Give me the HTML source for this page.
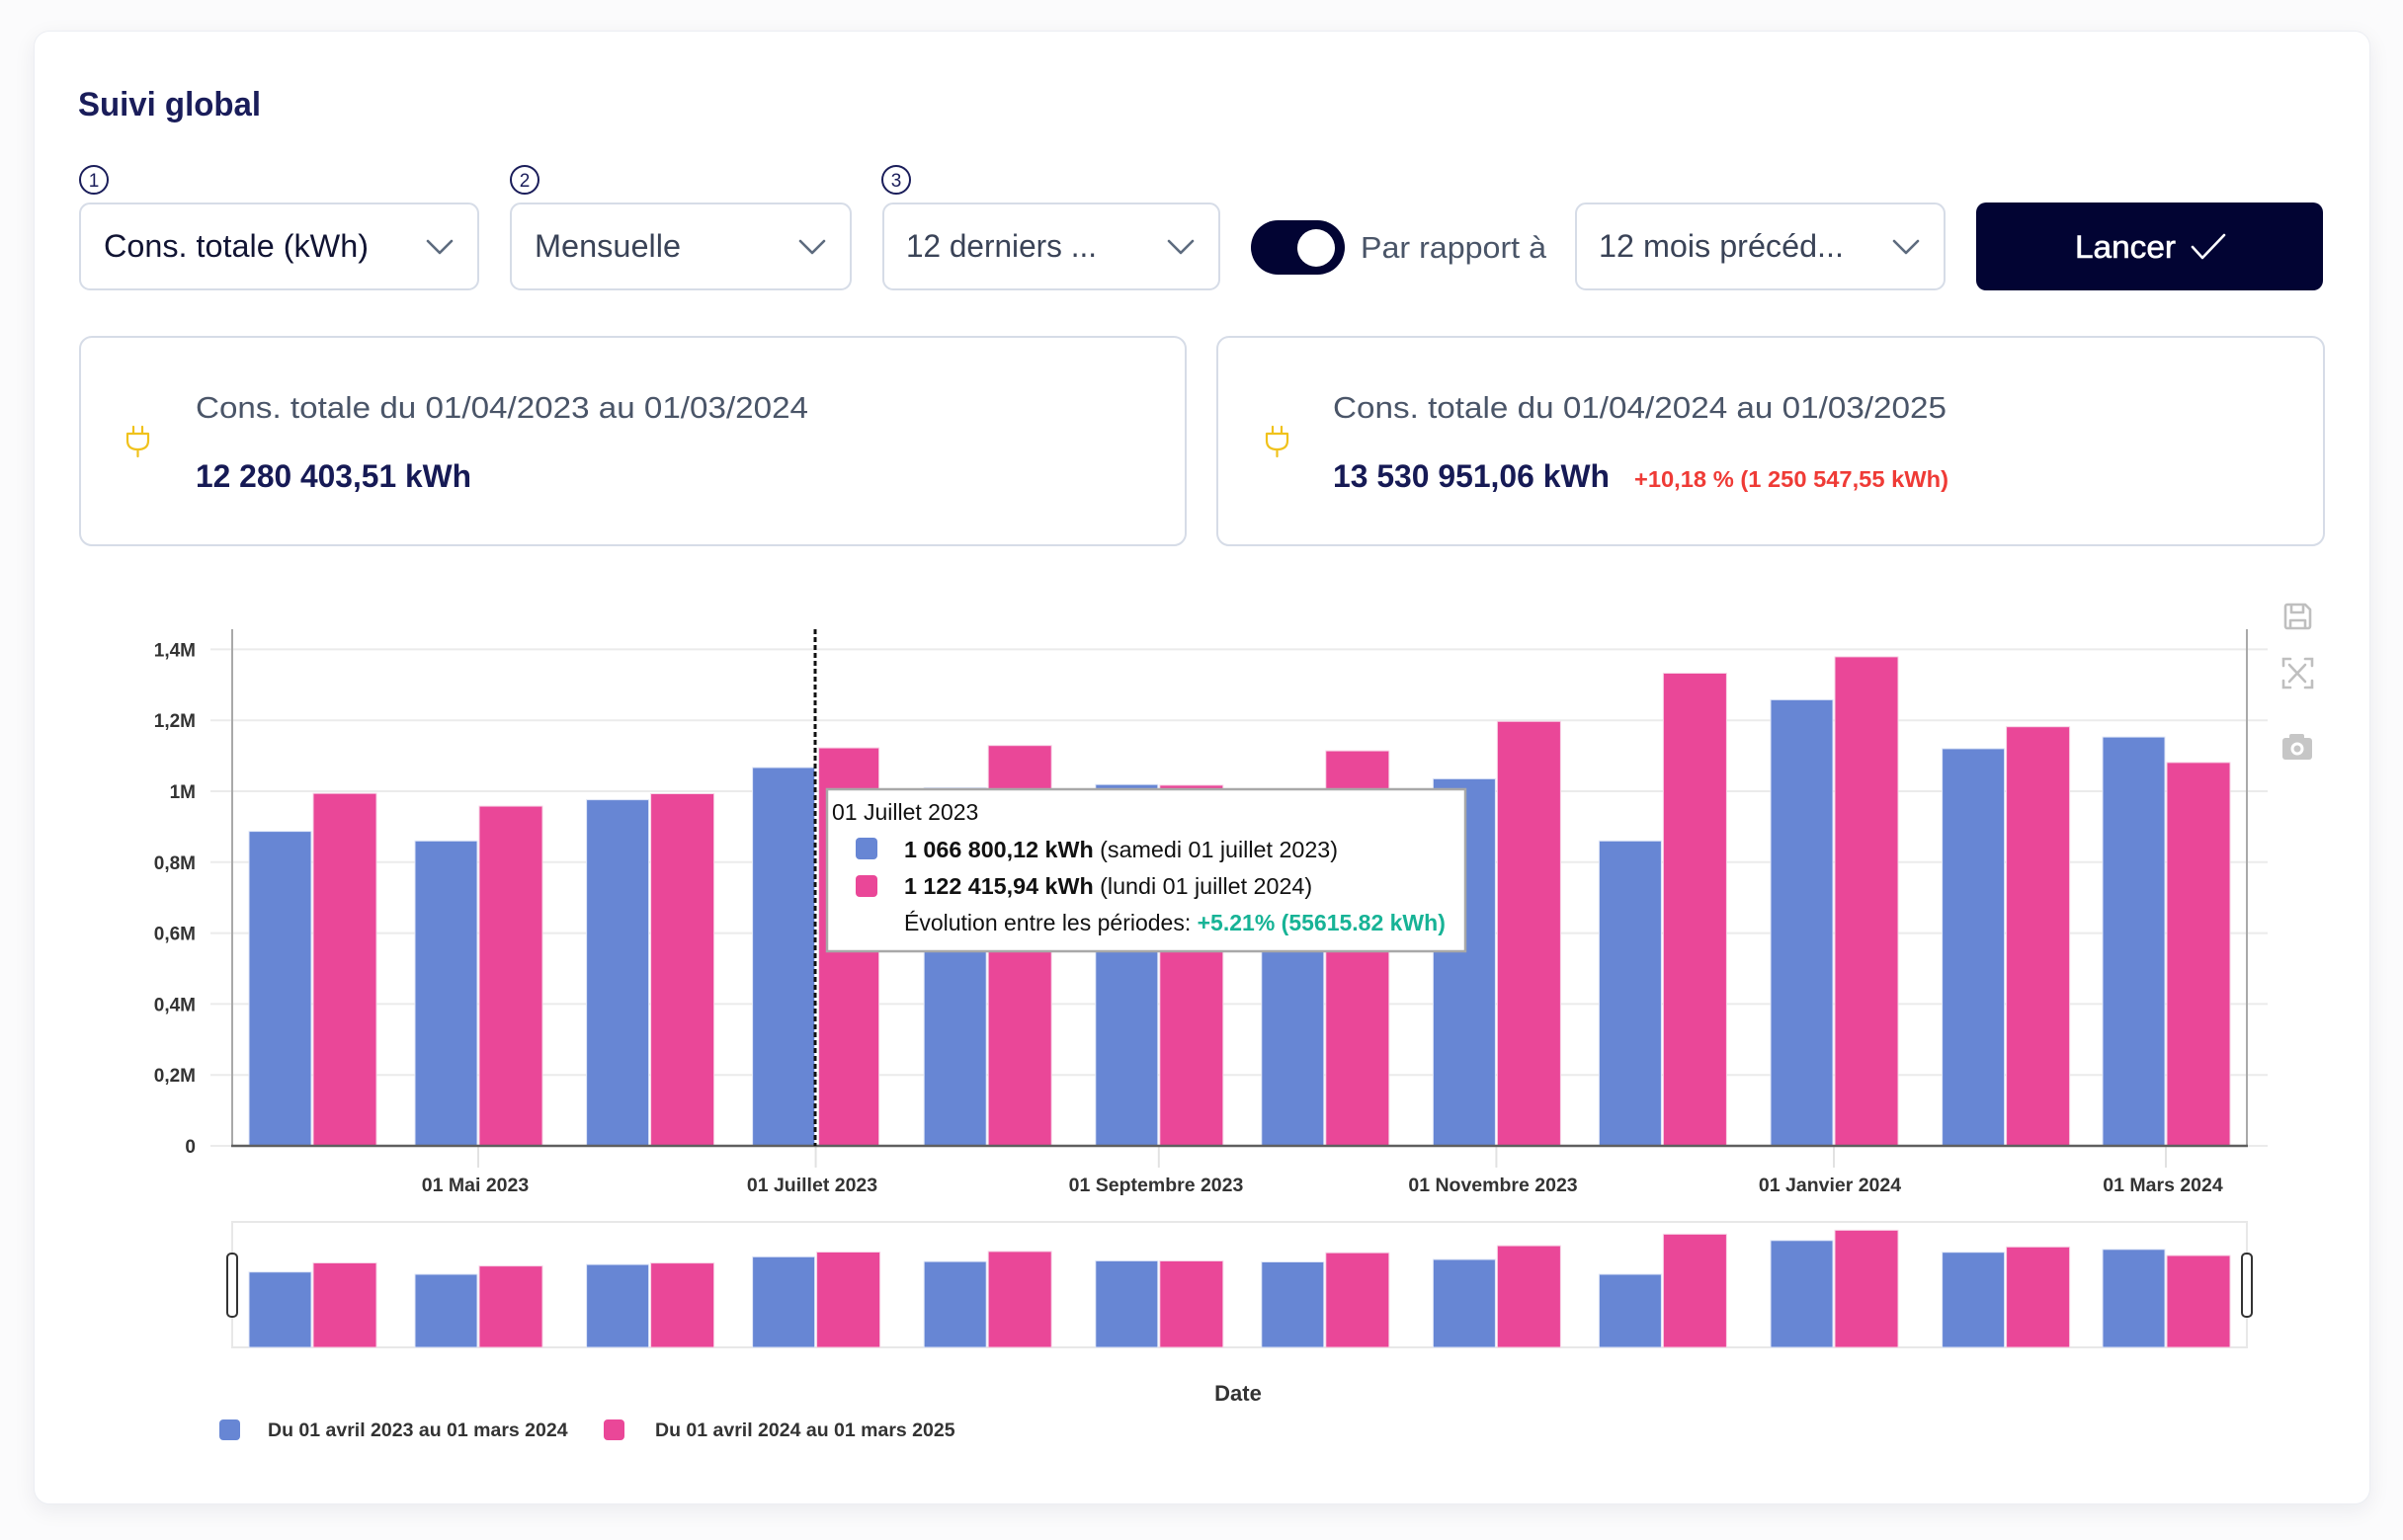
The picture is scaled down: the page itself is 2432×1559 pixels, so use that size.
<!DOCTYPE html>
<html>
<head>
<meta charset="utf-8">
<style>
  html,body{margin:0;padding:0;}
  body{width:2432px;height:1559px;background:#fbfbfc;position:relative;overflow:hidden;font-family:"Liberation Sans",Arial,sans-serif;}
  .card{position:absolute;left:34px;top:31px;width:2365px;height:1492px;background:#fff;border-radius:16px;border:1px solid #eceef3;box-shadow:0 6px 22px rgba(20,30,60,0.07);box-sizing:border-box;}
  svg{position:absolute;left:0;top:0;}
</style>
</head>
<body>
<div class="card"></div>
<svg width="2432" height="1559" viewBox="0 0 2432 1559" xmlns="http://www.w3.org/2000/svg" font-family="Liberation Sans, Arial, sans-serif">
  <!-- Title -->
  <text x="79" y="117" font-size="34" font-weight="bold" fill="#1a1d5a" textLength="185" lengthAdjust="spacingAndGlyphs">Suivi global</text>

  <!-- Step circles -->
  <g fill="none" stroke="#1a1d5a" stroke-width="2">
    <circle cx="95" cy="182" r="14"/>
    <circle cx="531" cy="182" r="14"/>
    <circle cx="907" cy="182" r="14"/>
  </g>
  <g font-size="19" fill="#1a1d5a" text-anchor="middle">
    <text x="95" y="189">1</text>
    <text x="531" y="189">2</text>
    <text x="907" y="189">3</text>
  </g>

  <!-- Dropdowns -->
  <g fill="#fff" stroke="#d6dce7" stroke-width="2">
    <rect x="81" y="206" width="403" height="87" rx="10"/>
    <rect x="517" y="206" width="344" height="87" rx="10"/>
    <rect x="894" y="206" width="340" height="87" rx="10"/>
    <rect x="1595" y="206" width="373" height="87" rx="10"/>
  </g>
  <text x="105" y="260" font-size="32" fill="#111433" textLength="268" lengthAdjust="spacingAndGlyphs">Cons. totale (kWh)</text>
  <text x="541" y="260" font-size="32" fill="#3a4357" textLength="148" lengthAdjust="spacingAndGlyphs">Mensuelle</text>
  <text x="917" y="260" font-size="32" fill="#3a4357" textLength="193" lengthAdjust="spacingAndGlyphs">12 derniers ...</text>
  <text x="1618" y="260" font-size="32" fill="#3a4357" textLength="248" lengthAdjust="spacingAndGlyphs">12 mois précéd...</text>
  <g fill="none" stroke="#5d6b7e" stroke-width="2.6" stroke-linecap="round" stroke-linejoin="round">
    <polyline points="433,244 445,256 457,244"/>
    <polyline points="810,244 822,256 834,244"/>
    <polyline points="1183,244 1195,256 1207,244"/>
    <polyline points="1917,244 1929,256 1941,244"/>
  </g>

  <!-- Toggle -->
  <rect x="1266" y="223" width="95" height="55" rx="27.5" fill="#020433"/>
  <circle cx="1332" cy="251" r="19" fill="#fff"/>
  <text x="1377" y="261" font-size="31" fill="#4a5568" textLength="188" lengthAdjust="spacingAndGlyphs">Par rapport à</text>

  <!-- Button -->
  <rect x="2000" y="205" width="351" height="89" rx="10" fill="#020433"/>
  <text x="2100" y="261" font-size="32" fill="#fff" textLength="102" lengthAdjust="spacingAndGlyphs" stroke="#fff" stroke-width="0.6">Lancer</text>
  <polyline points="2219,250 2229,261 2251,238" fill="none" stroke="#fff" stroke-width="2.6" stroke-linecap="round" stroke-linejoin="round"/>

  <!-- Stat cards -->
  <g fill="#fff" stroke="#d6dce7" stroke-width="2">
    <rect x="81" y="341" width="1119" height="211" rx="12"/>
    <rect x="1232" y="341" width="1120" height="211" rx="12"/>
  </g>
  <!-- plug icons -->
  <g fill="none" stroke="#f0c21c" stroke-width="2.2" stroke-linecap="round" stroke-linejoin="round">
    <path d="M135 432 v6 M144 432 v6 M129 439 h21 v7 q0 9 -10.5 9 q-10.5 0 -10.5 -9 z M139.5 455 v7"/>
    <path d="M1288 432 v6 M1297 432 v6 M1282 439 h21 v7 q0 9 -10.5 9 q-10.5 0 -10.5 -9 z M1292.5 455 v7"/>
  </g>
  <text x="198" y="423" font-size="31" fill="#4a5568" textLength="620" lengthAdjust="spacingAndGlyphs">Cons. totale du 01/04/2023 au 01/03/2024</text>
  <text x="198" y="493" font-size="32" font-weight="bold" fill="#161a55" textLength="279" lengthAdjust="spacingAndGlyphs">12 280 403,51 kWh</text>
  <text x="1349" y="423" font-size="31" fill="#4a5568" textLength="621" lengthAdjust="spacingAndGlyphs">Cons. totale du 01/04/2024 au 01/03/2025</text>
  <text x="1349" y="493" font-size="32" font-weight="bold" fill="#161a55" textLength="280" lengthAdjust="spacingAndGlyphs">13 530 951,06 kWh</text>
  <text x="1654" y="493" font-size="23" font-weight="bold" fill="#ef3b36" textLength="318" lengthAdjust="spacingAndGlyphs">+10,18 % (1 250 547,55 kWh)</text>

  <!-- ===== Chart ===== -->
  <g stroke="#ebebeb" stroke-width="2">
    <line x1="213" y1="657.4" x2="2295" y2="657.4"/>
    <line x1="213" y1="729.2" x2="2295" y2="729.2"/>
    <line x1="213" y1="801" x2="2295" y2="801"/>
    <line x1="213" y1="872.8" x2="2295" y2="872.8"/>
    <line x1="213" y1="944.6" x2="2295" y2="944.6"/>
    <line x1="213" y1="1016.4" x2="2295" y2="1016.4"/>
    <line x1="213" y1="1088.2" x2="2295" y2="1088.2"/>
    <line x1="213" y1="1160" x2="2295" y2="1160"/>
  </g>
  <g stroke="#e2e2e2" stroke-width="2">
    <line x1="484" y1="1161" x2="484" y2="1182"/>
    <line x1="825.6" y1="1161" x2="825.6" y2="1182"/>
    <line x1="1172.8" y1="1161" x2="1172.8" y2="1182"/>
    <line x1="1514.4" y1="1161" x2="1514.4" y2="1182"/>
    <line x1="1856" y1="1161" x2="1856" y2="1182"/>
    <line x1="2192" y1="1161" x2="2192" y2="1182"/>
  </g>
  <g font-size="19" font-weight="bold" fill="#333" text-anchor="end">
    <text x="198" y="664.4">1,4M</text>
    <text x="198" y="736.2">1,2M</text>
    <text x="198" y="808">1M</text>
    <text x="198" y="879.8">0,8M</text>
    <text x="198" y="951.6">0,6M</text>
    <text x="198" y="1023.4">0,4M</text>
    <text x="198" y="1095.2">0,2M</text>
    <text x="198" y="1167">0</text>
  </g>

  <g fill="#6786d4" stroke="#dfe6f7" stroke-width="1">
    <rect x="252" y="841.6" width="63" height="318.4"/>
    <rect x="420" y="851.3" width="63" height="308.7"/>
    <rect x="593.6" y="809.6" width="63" height="350.4"/>
    <rect x="761.6" y="777" width="63" height="383"/>
    <rect x="935.2" y="797.4" width="63" height="362.6"/>
    <rect x="1108.8" y="794.2" width="63" height="365.8"/>
    <rect x="1276.8" y="798.8" width="63" height="361.2"/>
    <rect x="1450.4" y="788.4" width="63" height="371.6"/>
    <rect x="1618.4" y="851.3" width="63" height="308.7"/>
    <rect x="1792" y="708.4" width="63" height="451.6"/>
    <rect x="1965.6" y="757.9" width="63" height="402.1"/>
    <rect x="2128" y="746.1" width="63" height="413.9"/>
  </g>
  <g fill="#ea4798" stroke="#f7d3e6" stroke-width="1">
    <rect x="317" y="803.2" width="64" height="356.8"/>
    <rect x="485" y="816.1" width="64" height="343.9"/>
    <rect x="658.6" y="803.5" width="64" height="356.5"/>
    <rect x="828.6" y="757.1" width="61" height="402.9"/>
    <rect x="1000.2" y="754.7" width="64" height="405.3"/>
    <rect x="1173.8" y="794.9" width="64" height="365.1"/>
    <rect x="1341.8" y="760.1" width="64" height="399.9"/>
    <rect x="1515.4" y="730.3" width="64" height="429.7"/>
    <rect x="1683.4" y="681.5" width="64" height="478.5"/>
    <rect x="1857" y="664.9" width="64" height="495.1"/>
    <rect x="2030.6" y="735.7" width="64" height="424.3"/>
    <rect x="2193" y="771.9" width="64" height="388.1"/>
  </g>

  <line x1="235" y1="637" x2="235" y2="1161" stroke="#a9a9a9" stroke-width="2"/>
  <line x1="2274" y1="637" x2="2274" y2="1161" stroke="#a9a9a9" stroke-width="2"/>
  <line x1="234" y1="1160" x2="2275" y2="1160" stroke="#5f5f5f" stroke-width="2.6"/>

  <g font-size="19.5" font-weight="bold" fill="#333" text-anchor="middle">
    <text x="481" y="1206">01 Mai 2023</text>
    <text x="822" y="1206">01 Juillet 2023</text>
    <text x="1170" y="1206">01 Septembre 2023</text>
    <text x="1511" y="1206">01 Novembre 2023</text>
    <text x="1852" y="1206">01 Janvier 2024</text>
    <text x="2189" y="1206">01 Mars 2024</text>
  </g>

  <line x1="825" y1="637" x2="825" y2="1160" stroke="#111" stroke-width="3" stroke-dasharray="5,3"/>

  <rect x="837" y="799" width="646" height="164" fill="#fff" stroke="#a8a8a8" stroke-width="2.5"/>
  <text x="842" y="830" font-size="23" fill="#111">01 Juillet 2023</text>
  <rect x="866" y="848" width="22" height="22" rx="4" fill="#6786d4"/>
  <rect x="866" y="886" width="22" height="22" rx="4" fill="#ea4798"/>
  <text x="915" y="868" font-size="23.3" fill="#111"><tspan font-weight="bold">1 066 800,12 kWh</tspan> (samedi 01 juillet 2023)</text>
  <text x="915" y="905" font-size="23.3" fill="#111"><tspan font-weight="bold">1 122 415,94 kWh</tspan> (lundi 01 juillet 2024)</text>
  <text x="915" y="942" font-size="23" fill="#111">Évolution entre les périodes: <tspan fill="#17b396" font-weight="bold">+5.21% (55615.82 kWh)</tspan></text>

  <g fill="none" stroke="#bfbfbf" stroke-width="2.6" stroke-linejoin="round">
    <path d="M2315 612 h18 l5 5 v17 a2 2 0 0 1 -2 2 h-21 a2 2 0 0 1 -2 -2 v-20 a2 2 0 0 1 2 -2 z"/>
    <path d="M2319 612 v8 h12 v-8"/>
    <path d="M2318 636 v-8 h15 v8"/>
  </g>
  <g fill="none" stroke="#bfbfbf" stroke-width="2.6" stroke-linecap="round">
    <path d="M2311 674 v-7 h7 M2333 667 h7 v7 M2340 689 v7 h-7 M2318 696 h-7 v-7"/>
    <path d="M2317 673 l16 17 M2333 673 l-16 17"/>
  </g>
  <rect x="2310" y="747" width="30" height="22" rx="3" fill="#c6c6c6"/>
  <rect x="2317" y="743" width="15" height="7" rx="2" fill="#c6c6c6"/>
  <circle cx="2325" cy="758" r="6.5" fill="#fff"/>
  <circle cx="2325" cy="758" r="3.5" fill="#c6c6c6"/>

  <rect x="235" y="1237" width="2039" height="127" fill="#fff" stroke="#e8e8e8" stroke-width="2"/>
  <g fill="#6786d4" stroke="#dfe6f7" stroke-width="1">
    <rect x="252" y="1287.7" width="63" height="76.3"/>
    <rect x="420" y="1290" width="63" height="74"/>
    <rect x="593.6" y="1280.1" width="63" height="83.9"/>
    <rect x="761.6" y="1272.3" width="63" height="91.7"/>
    <rect x="935.2" y="1277.1" width="63" height="86.9"/>
    <rect x="1108.8" y="1276.4" width="63" height="87.6"/>
    <rect x="1276.8" y="1277.5" width="63" height="86.5"/>
    <rect x="1450.4" y="1275" width="63" height="89"/>
    <rect x="1618.4" y="1290" width="63" height="74"/>
    <rect x="1792" y="1255.8" width="63" height="108.2"/>
    <rect x="1965.6" y="1267.7" width="63" height="96.3"/>
    <rect x="2128" y="1264.8" width="63" height="99.2"/>
  </g>
  <g fill="#ea4798" stroke="#f7d3e6" stroke-width="1">
    <rect x="317" y="1278.5" width="64" height="85.5"/>
    <rect x="485" y="1281.6" width="64" height="82.4"/>
    <rect x="658.6" y="1278.6" width="64" height="85.4"/>
    <rect x="826.6" y="1267.5" width="64" height="96.5"/>
    <rect x="1000.2" y="1266.9" width="64" height="97.1"/>
    <rect x="1173.8" y="1276.5" width="64" height="87.5"/>
    <rect x="1341.8" y="1268.2" width="64" height="95.8"/>
    <rect x="1515.4" y="1261.1" width="64" height="102.9"/>
    <rect x="1683.4" y="1249.4" width="64" height="114.6"/>
    <rect x="1857" y="1245.4" width="64" height="118.6"/>
    <rect x="2030.6" y="1262.3" width="64" height="101.7"/>
    <rect x="2193" y="1271" width="64" height="93"/>
  </g>
  <rect x="230" y="1269" width="10" height="64" rx="4" fill="#fff" stroke="#333" stroke-width="2"/>
  <rect x="2269" y="1269" width="10" height="64" rx="4" fill="#fff" stroke="#333" stroke-width="2"/>

  <text x="1253" y="1418" font-size="22" font-weight="bold" fill="#333" text-anchor="middle">Date</text>

  <rect x="222" y="1437" width="21" height="21" rx="4" fill="#6786d4"/>
  <text x="271" y="1454" font-size="19.5" font-weight="bold" fill="#333">Du 01 avril 2023 au 01 mars 2024</text>
  <rect x="611" y="1437" width="21" height="21" rx="4" fill="#ea4798"/>
  <text x="663" y="1454" font-size="19.5" font-weight="bold" fill="#333">Du 01 avril 2024 au 01 mars 2025</text>
</svg>
</body>
</html>
